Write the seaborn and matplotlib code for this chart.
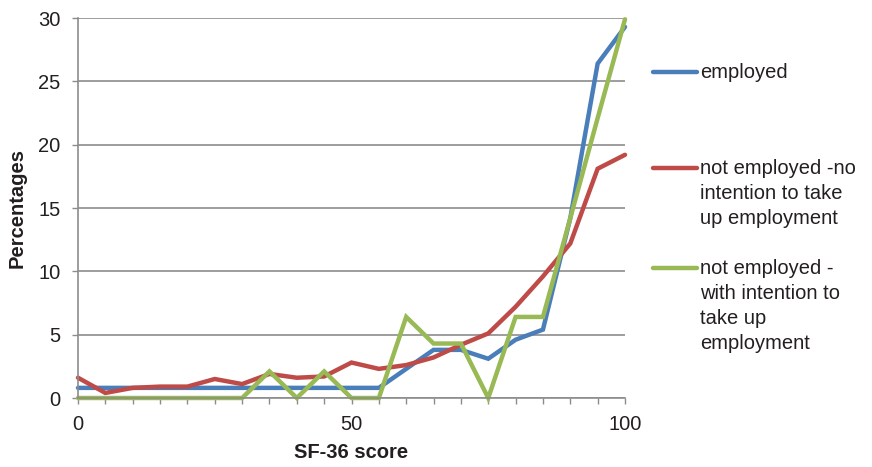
import matplotlib
matplotlib.use("Agg")
import matplotlib.pyplot as plt
from matplotlib.lines import Line2D
from matplotlib.ticker import MultipleLocator, FixedLocator
import seaborn as sns
import pandas as pd

# SF-36 score bins and percentage of respondents in each group
score = [0, 5, 10, 15, 20, 25, 30, 35, 40, 45, 50,
         55, 60, 65, 70, 75, 80, 85, 90, 95, 100]
employed = [0.8, 0.8, 0.8, 0.8, 0.8, 0.8, 0.8, 0.8, 0.8, 0.8, 0.8,
            0.8, 2.3, 3.8, 3.8, 3.1, 4.6, 5.4, 14.2, 26.4, 29.3]
no_intention = [1.6, 0.4, 0.8, 0.9, 0.9, 1.5, 1.1, 1.9, 1.6, 1.7, 2.8,
                2.3, 2.6, 3.2, 4.2, 5.1, 7.2, 9.6, 12.2, 18.1, 19.2]
with_intention = [0, 0, 0, 0, 0, 0, 0, 2.1, 0, 2.1, 0,
                  0, 6.4, 4.3, 4.3, 0, 6.4, 6.4, 14.2, 22.1, 29.9]

groups = ["employed",
          "not employed -no\nintention to take\nup employment",
          "not employed -\nwith intention to\ntake up\nemployment"]
colors = ["#4A7EBB", "#BE4B48", "#98B954"]

df = pd.concat([
    pd.DataFrame({"score": score, "pct": vals, "group": g})
    for g, vals in zip(groups, [employed, no_intention, with_intention])
])

sns.set_style("white")
plt.rcParams["font.family"] = ["Liberation Sans", "DejaVu Sans"]
text_color = "#231f20"
grid_color = "#8c8c8c"

fig = plt.figure(figsize=(8.72, 4.67), dpi=100)
W, H = 872, 467
ax = fig.add_axes([78 / W, 1 - 398 / H, (625 - 78) / W, (398 - 18) / H])

sns.lineplot(data=df, x="score", y="pct", hue="group", hue_order=groups,
             palette=colors, linewidth=3.2, legend=False, ax=ax)
for ln in ax.lines:
    ln.set_clip_on(False)
    ln.set_solid_joinstyle("miter")

ax.set_xlim(0, 100)
ax.set_ylim(0, 30)
ax.yaxis.set_major_locator(MultipleLocator(5))
ax.xaxis.set_major_locator(FixedLocator([0, 50, 100]))
ax.xaxis.set_minor_locator(MultipleLocator(5))

ax.grid(axis="y", color=grid_color, linewidth=1.2)
ax.grid(axis="x", visible=False)
ax.set_axisbelow(True)
for side in ["top", "right"]:
    ax.spines[side].set_visible(False)
for side in ["left", "bottom"]:
    ax.spines[side].set_color(grid_color)
    ax.spines[side].set_linewidth(1.2)

ax.tick_params(axis="y", which="major", direction="out", length=4.5, width=1.0,
               color=grid_color, pad=8, labelsize=14.5, labelcolor=text_color, left=True)
ax.tick_params(axis="x", which="both", direction="out", length=4.5, width=1.0,
               color=grid_color, pad=8, labelsize=14.5, labelcolor=text_color, bottom=True)

ax.set_xlabel("SF-36 score", fontsize=14.5, fontweight="bold", color=text_color)
ax.set_ylabel("Percentages", fontsize=14.5, fontweight="bold", color=text_color, va="center")
ax.yaxis.set_label_coords((17 - 78) / 547, 0.5)
ax.xaxis.set_label_coords(0.5, -(452 - 398) / 380)
ax.xaxis.label.set_va("center")

# Legend with the line marker aligned to the first text line of each entry
entry_y = [71.5, 168, 268]
for g, c, y in zip(groups, colors, entry_y):
    fig.add_artist(Line2D([653 / W, 697 / W], [1 - y / H, 1 - y / H],
                          color=c, linewidth=3.2, solid_capstyle="round"))
    fig.text(700 / W, 1 - (y - 9) / H, g, fontsize=14.5, color=text_color,
             ha="left", va="top", linespacing=1.41)

fig.savefig("out.png", dpi=100)
